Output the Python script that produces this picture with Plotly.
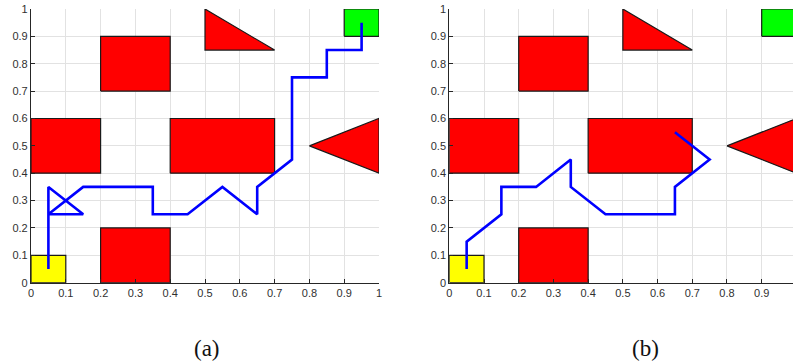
import plotly.graph_objects as go

# Obstacles (red polygons with black edges), shared by both panels
obstacle_xs = [
    [0.2, 0.4, 0.4, 0.2],
    [0.0, 0.2, 0.2, 0.0],
    [0.4, 0.7, 0.7, 0.4],
    [0.2, 0.4, 0.4, 0.2],
    [0.5, 0.5, 0.7],
    [0.8, 1.0, 1.0],
]
obstacle_ys = [
    [0.7, 0.7, 0.9, 0.9],
    [0.4, 0.4, 0.6, 0.6],
    [0.4, 0.4, 0.6, 0.6],
    [0.0, 0.0, 0.2, 0.2],
    [1.0, 0.85, 0.85],
    [0.5, 0.6, 0.4],
]

# Start (yellow) and goal (green) cells
start_x = [0.0, 0.1, 0.1, 0.0]
start_y = [0.0, 0.0, 0.1, 0.1]
goal_x = [0.9, 1.0, 1.0, 0.9]
goal_y = [0.9, 0.9, 1.0, 1.0]

# Agent paths
path_a_x = [0.05, 0.05, 0.15, 0.05, 0.15, 0.35, 0.35, 0.45, 0.55, 0.65, 0.65,
            0.75, 0.75, 0.85, 0.85, 0.95, 0.95]
path_a_y = [0.05, 0.35, 0.25, 0.25, 0.35, 0.35, 0.25, 0.25, 0.35, 0.25, 0.35,
            0.45, 0.75, 0.75, 0.85, 0.85, 0.95]
path_b_x = [0.05, 0.05, 0.15, 0.15, 0.25, 0.35, 0.35, 0.45, 0.65, 0.65, 0.75, 0.65]
path_b_y = [0.05, 0.15, 0.25, 0.35, 0.35, 0.45, 0.35, 0.25, 0.25, 0.35, 0.45, 0.55]

tick_vals = [0, 0.1, 0.2, 0.3, 0.4, 0.5, 0.6, 0.7, 0.8, 0.9, 1]
tick_text = ["0", "0.1", "0.2", "0.3", "0.4", "0.5", "0.6", "0.7", "0.8", "0.9", "1"]
captions = ["(a)", "(b)"]

W, H = 793, 363
fig = go.Figure()

panels = [
    dict(xa="x", ya="y", path=(path_a_x, path_a_y)),
    dict(xa="x2", ya="y2", path=(path_b_x, path_b_y)),
]

def poly(xs, ys, color, xa, ya):
    fig.add_trace(go.Scatter(
        x=xs + [xs[0]], y=ys + [ys[0]], xaxis=xa, yaxis=ya,
        mode="lines", fill="toself", fillcolor=color,
        line=dict(color="#1a1a1a", width=1.2), hoverinfo="skip",
        showlegend=False))

for p in panels:
    for xs, ys in zip(obstacle_xs, obstacle_ys):
        poly(xs, ys, "#ff0000", p["xa"], p["ya"])
    poly(start_x, start_y, "#ffff00", p["xa"], p["ya"])
    poly(goal_x, goal_y, "#00ff00", p["xa"], p["ya"])
    px, py = p["path"]
    fig.add_trace(go.Scatter(
        x=px, y=py, xaxis=p["xa"], yaxis=p["ya"], mode="lines",
        line=dict(color="#0000ff", width=2.6), showlegend=False))

y_dom = [(H - 282.7) / H, (H - 9) / H]
left_x = [31 / W, 379 / W]
right_x0 = 449.3
right_scale = 347.1
right_max = (W - right_x0) / right_scale

common = dict(
    showgrid=True, gridcolor="#e2e2e2", gridwidth=1, automargin=False,
    zeroline=False, showline=True, linecolor="#262626", linewidth=1.2,
    ticks="inside", ticklen=4, tickcolor="#262626", tickwidth=1,
    tickvals=tick_vals, ticktext=tick_text,
    tickfont=dict(family="Liberation Sans, Arial, sans-serif", size=11, color="#303030"),
    fixedrange=True, mirror=False,
)

fig.update_layout(
    width=W, height=H,
    margin=dict(l=0, r=0, t=0, b=0, pad=0, autoexpand=False),
    paper_bgcolor="white", plot_bgcolor="white",
    xaxis=dict(domain=left_x, range=[0, 1], anchor="y", **common),
    yaxis=dict(domain=y_dom, range=[0, 1], anchor="x", **common),
    xaxis2=dict(domain=[right_x0 / W, 1.0], range=[0, right_max], anchor="y2", **common),
    yaxis2=dict(domain=y_dom, range=[0, 1], anchor="x2", **common),
)

for cx, label in zip([207 / W, 645 / W], captions):
    fig.add_annotation(
        x=cx, y=(H - 348) / H, xref="paper", yref="paper",
        text=label, showarrow=False,
        font=dict(family="Liberation Serif, DejaVu Serif, serif", size=23, color="#111111"),
        xanchor="center", yanchor="middle")

fig.write_html("out.html")
